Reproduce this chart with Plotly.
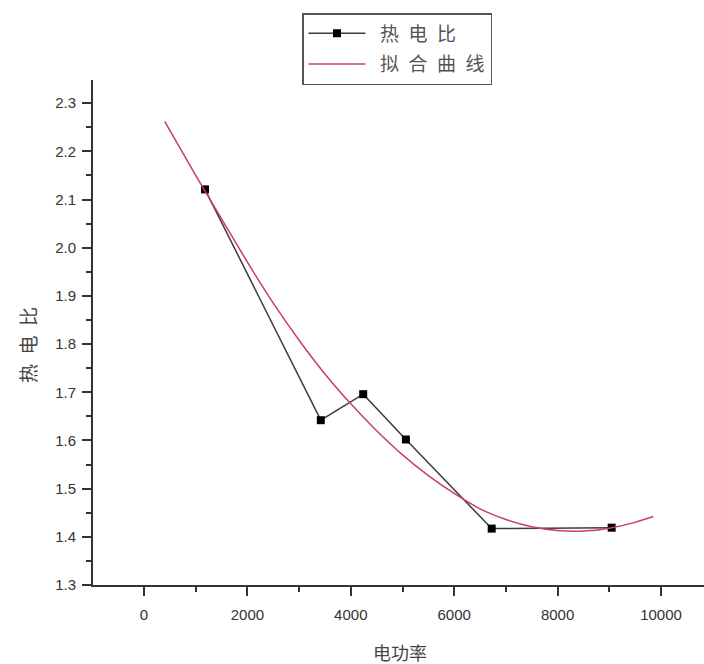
import plotly.graph_objects as go

# measured data (热电比 vs 电功率)
power = [1180, 3420, 4240, 5065, 6725, 9045]
ratio = [2.121, 1.642, 1.696, 1.602, 1.417, 1.419]

# fitted curve, values
fit_x = [400, 1000, 1500, 2000, 2500, 3000, 3500, 4000, 4500, 5000, 5500, 6000,
         6500, 7000, 7500, 8000, 8500, 9000, 9500, 9850]
fit_y = [2.262, 2.150, 2.060, 1.970, 1.885, 1.808, 1.738, 1.676, 1.620, 1.570,
         1.527, 1.490, 1.458, 1.436, 1.421, 1.413, 1.412, 1.418, 1.430, 1.442]

x_ticks = [0, 2000, 4000, 6000, 8000, 10000]
y_ticks = [1.3, 1.4, 1.5, 1.6, 1.7, 1.8, 1.9, 2.0, 2.1, 2.2, 2.3]

W, H = 704, 664
L, R, T, B = 93, 0, 80, 79
pw, ph = W - L - R, H - T - B
SP = "\u2002"

fig = go.Figure()
fig.add_trace(go.Scatter(
    x=power, y=ratio, name=SP + SP.join("热电比"), mode="lines+markers", legendgroup="a",
    line=dict(color="#3c3c3c", width=1.5),
    marker=dict(symbol="square", size=8, color="#000000"),
))
fig.add_trace(go.Scatter(
    x=fit_x, y=fit_y, name=SP + SP.join("拟合曲线"), mode="lines", legendgroup="b",
    line=dict(color="#c8405a", width=1.5, shape="spline", smoothing=0.6),
))

axis_common = dict(
    showline=True, linecolor="#333333", linewidth=2,
    ticks="outside", ticklen=9, tickwidth=1.5, tickcolor="#333333",
    showgrid=False, zeroline=False,
    tickfont=dict(family="Liberation Sans, Arial", size=15, color="#333333"),
)

fig.update_xaxes(
    range=[-986, 10831], tickvals=x_ticks, ticktext=[str(v) for v in x_ticks],
    minor=dict(ticks="outside", ticklen=5, tickwidth=1.5, tickcolor="#333333", dtick=1000,
               tick0=0, showgrid=False),
    ticklabelstandoff=6,
    **axis_common,
)
fig.update_yaxes(
    range=[1.3, 2.348], tickvals=y_ticks, ticktext=[f"{v:.1f}" for v in y_ticks],
    minor=dict(ticks="outside", ticklen=5, tickwidth=1.5, tickcolor="#333333", dtick=0.05,
               tick0=1.3, showgrid=False),
    ticklabelstandoff=3,
    **axis_common,
)

fig.add_annotation(
    text="电功率", xref="paper", yref="paper",
    x=(400 - L) / pw, y=(H - B - 652) / ph, xanchor="center", yanchor="middle",
    showarrow=False, font=dict(family="Noto Sans CJK SC", size=18, color="#444444"),
)
fig.add_annotation(
    text=SP.join("热电比"), xref="paper", yref="paper", textangle=-90,
    x=(27 - L) / pw, y=(H - B - 345) / ph, xanchor="center", yanchor="middle",
    showarrow=False, font=dict(family="Noto Sans CJK SC", size=19, color="#444444"),
)

fig.update_layout(
    width=W, height=H,
    margin=dict(l=L, r=R, t=T, b=B, pad=0),
    paper_bgcolor="white", plot_bgcolor="white",
    showlegend=True,
    legend=dict(
        x=(302 - L) / pw, y=(H - B - 13) / ph, xanchor="left", yanchor="top",
        bordercolor="#555555", borderwidth=1.5, bgcolor="white",
        font=dict(family="Noto Sans CJK SC", size=19, color="#555555"),
        itemwidth=57, tracegroupgap=3,
    ),
)

fig.write_html("out.html", config={"displayModeBar": False},
               post_script="document.body.style.margin='0';document.body.style.overflow='hidden';")
